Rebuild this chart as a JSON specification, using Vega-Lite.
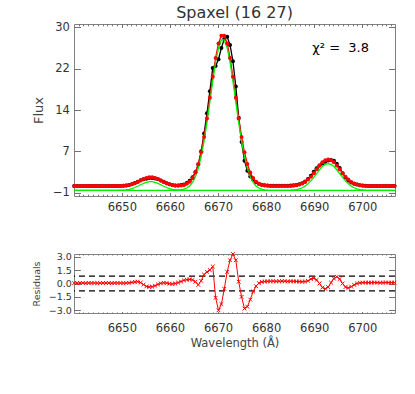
{
  "$schema": "https://vega.github.io/schema/vega-lite/v6.json",
  "background": "white",
  "padding": {"left": 30, "top": 4, "right": 5, "bottom": 5},
  "bounds": "flush",
  "spacing": 58,
  "config": {
    "view": {"stroke": "#808080", "strokeWidth": 1},
    "font": "DejaVu Sans",
    "axis": {"grid": false, "domain": false, "tickColor": "#707070", "labelColor": "#333", "titleColor": "#444", "labelFont": "DejaVu Sans", "titleFont": "DejaVu Sans", "titleFontWeight": "normal", "labelFlush": false, "labelOverlap": false}
  },
  "datasets": {
    "s": [
      {"w": 6640.1, "obs": 0.26, "mod": 0.25, "g": -0.55, "res": 0.05},
      {"w": 6640.7, "obs": 0.26, "mod": 0.25, "g": -0.55, "res": 0.04},
      {"w": 6641.3, "obs": 0.26, "mod": 0.25, "g": -0.55, "res": 0.06},
      {"w": 6641.9, "obs": 0.26, "mod": 0.25, "g": -0.55, "res": 0.05},
      {"w": 6642.5, "obs": 0.26, "mod": 0.25, "g": -0.55, "res": 0.04},
      {"w": 6643.1, "obs": 0.26, "mod": 0.25, "g": -0.55, "res": 0.05},
      {"w": 6643.7, "obs": 0.26, "mod": 0.25, "g": -0.55, "res": 0.06},
      {"w": 6644.3, "obs": 0.26, "mod": 0.25, "g": -0.55, "res": 0.05},
      {"w": 6644.9, "obs": 0.26, "mod": 0.25, "g": -0.55, "res": 0.04},
      {"w": 6645.5, "obs": 0.26, "mod": 0.25, "g": -0.55, "res": 0.05},
      {"w": 6646.1, "obs": 0.26, "mod": 0.25, "g": -0.55, "res": 0.05},
      {"w": 6646.7, "obs": 0.26, "mod": 0.25, "g": -0.55, "res": 0.06},
      {"w": 6647.3, "obs": 0.26, "mod": 0.25, "g": -0.55, "res": 0.05},
      {"w": 6647.9, "obs": 0.26, "mod": 0.25, "g": -0.55, "res": 0.04},
      {"w": 6648.5, "obs": 0.27, "mod": 0.26, "g": -0.54, "res": 0.05},
      {"w": 6649.1, "obs": 0.28, "mod": 0.26, "g": -0.54, "res": 0.06},
      {"w": 6649.7, "obs": 0.29, "mod": 0.28, "g": -0.52, "res": 0.05},
      {"w": 6650.3, "obs": 0.32, "mod": 0.31, "g": -0.49, "res": 0.04},
      {"w": 6650.9, "obs": 0.37, "mod": 0.36, "g": -0.44, "res": 0.06},
      {"w": 6651.5, "obs": 0.47, "mod": 0.45, "g": -0.35, "res": 0.08},
      {"w": 6652.1, "obs": 0.62, "mod": 0.59, "g": -0.21, "res": 0.12},
      {"w": 6652.7, "obs": 0.84, "mod": 0.79, "g": -0.01, "res": 0.18},
      {"w": 6653.3, "obs": 1.09, "mod": 1.03, "g": 0.23, "res": 0.2},
      {"w": 6653.9, "obs": 1.33, "mod": 1.30, "g": 0.50, "res": 0.1},
      {"w": 6654.5, "obs": 1.52, "mod": 1.56, "g": 0.76, "res": -0.12},
      {"w": 6655.1, "obs": 1.65, "mod": 1.77, "g": 0.97, "res": -0.32},
      {"w": 6655.7, "obs": 1.75, "mod": 1.89, "g": 1.09, "res": -0.38},
      {"w": 6656.3, "obs": 1.76, "mod": 1.89, "g": 1.09, "res": -0.35},
      {"w": 6656.9, "obs": 1.68, "mod": 1.77, "g": 0.97, "res": -0.25},
      {"w": 6657.5, "obs": 1.52, "mod": 1.56, "g": 0.76, "res": -0.1},
      {"w": 6658.1, "obs": 1.31, "mod": 1.30, "g": 0.50, "res": 0.02},
      {"w": 6658.7, "obs": 1.05, "mod": 1.03, "g": 0.23, "res": 0.08},
      {"w": 6659.3, "obs": 0.80, "mod": 0.79, "g": -0.01, "res": 0.05},
      {"w": 6659.9, "obs": 0.58, "mod": 0.59, "g": -0.21, "res": -0.02},
      {"w": 6660.5, "obs": 0.44, "mod": 0.45, "g": -0.35, "res": -0.05},
      {"w": 6661.1, "obs": 0.38, "mod": 0.38, "g": -0.42, "res": 0.0},
      {"w": 6661.7, "obs": 0.38, "mod": 0.36, "g": -0.44, "res": 0.1},
      {"w": 6662.3, "obs": 0.44, "mod": 0.38, "g": -0.42, "res": 0.22},
      {"w": 6662.9, "obs": 0.57, "mod": 0.48, "g": -0.32, "res": 0.35},
      {"w": 6663.5, "obs": 0.82, "mod": 0.70, "g": -0.10, "res": 0.43},
      {"w": 6664.1, "obs": 1.24, "mod": 1.09, "g": 0.29, "res": 0.46},
      {"w": 6664.7, "obs": 1.90, "mod": 1.76, "g": 0.96, "res": 0.4},
      {"w": 6665.3, "obs": 2.89, "mod": 2.81, "g": 2.01, "res": 0.2},
      {"w": 6665.9, "obs": 4.32, "mod": 4.39, "g": 3.59, "res": -0.15},
      {"w": 6666.5, "obs": 6.76, "mod": 6.59, "g": 5.79, "res": 0.3},
      {"w": 6667.1, "obs": 10.10, "mod": 9.46, "g": 8.66, "res": 1.0},
      {"w": 6667.7, "obs": 13.87, "mod": 12.92, "g": 12.12, "res": 1.3},
      {"w": 6668.3, "obs": 18.00, "mod": 16.78, "g": 15.98, "res": 1.5},
      {"w": 6668.9, "obs": 22.38, "mod": 20.71, "g": 19.91, "res": 1.9},
      {"w": 6669.5, "obs": 22.75, "mod": 24.25, "g": 23.45, "res": -1.6},
      {"w": 6670.1, "obs": 24.01, "mod": 26.95, "g": 26.15, "res": -3.0},
      {"w": 6670.7, "obs": 26.11, "mod": 28.41, "g": 27.61, "res": -2.3},
      {"w": 6671.3, "obs": 27.81, "mod": 28.41, "g": 27.61, "res": -0.6},
      {"w": 6671.9, "obs": 28.22, "mod": 26.95, "g": 26.15, "res": 1.3},
      {"w": 6672.5, "obs": 26.69, "mod": 24.25, "g": 23.45, "res": 2.6},
      {"w": 6673.1, "obs": 23.61, "mod": 20.71, "g": 19.91, "res": 3.3},
      {"w": 6673.7, "obs": 18.89, "mod": 16.78, "g": 15.98, "res": 2.6},
      {"w": 6674.3, "obs": 13.07, "mod": 12.92, "g": 12.12, "res": 0.2},
      {"w": 6674.9, "obs": 8.50, "mod": 9.46, "g": 8.66, "res": -1.5},
      {"w": 6675.5, "obs": 5.02, "mod": 6.59, "g": 5.79, "res": -2.8},
      {"w": 6676.1, "obs": 3.12, "mod": 4.39, "g": 3.59, "res": -2.6},
      {"w": 6676.7, "obs": 2.05, "mod": 2.81, "g": 2.01, "res": -1.8},
      {"w": 6677.3, "obs": 1.44, "mod": 1.76, "g": 0.96, "res": -0.9},
      {"w": 6677.9, "obs": 0.99, "mod": 1.09, "g": 0.29, "res": -0.3},
      {"w": 6678.5, "obs": 0.70, "mod": 0.69, "g": -0.11, "res": 0.05},
      {"w": 6679.1, "obs": 0.52, "mod": 0.47, "g": -0.33, "res": 0.18},
      {"w": 6679.7, "obs": 0.41, "mod": 0.36, "g": -0.44, "res": 0.22},
      {"w": 6680.3, "obs": 0.36, "mod": 0.30, "g": -0.50, "res": 0.25},
      {"w": 6680.9, "obs": 0.33, "mod": 0.27, "g": -0.53, "res": 0.25},
      {"w": 6681.5, "obs": 0.31, "mod": 0.25, "g": -0.55, "res": 0.26},
      {"w": 6682.1, "obs": 0.31, "mod": 0.25, "g": -0.55, "res": 0.24},
      {"w": 6682.7, "obs": 0.31, "mod": 0.25, "g": -0.55, "res": 0.25},
      {"w": 6683.3, "obs": 0.31, "mod": 0.25, "g": -0.55, "res": 0.26},
      {"w": 6683.9, "obs": 0.31, "mod": 0.25, "g": -0.55, "res": 0.25},
      {"w": 6684.5, "obs": 0.33, "mod": 0.27, "g": -0.53, "res": 0.24},
      {"w": 6685.1, "obs": 0.35, "mod": 0.29, "g": -0.51, "res": 0.25},
      {"w": 6685.7, "obs": 0.39, "mod": 0.33, "g": -0.47, "res": 0.24},
      {"w": 6686.3, "obs": 0.46, "mod": 0.40, "g": -0.40, "res": 0.23},
      {"w": 6686.9, "obs": 0.59, "mod": 0.53, "g": -0.27, "res": 0.22},
      {"w": 6687.5, "obs": 0.80, "mod": 0.74, "g": -0.06, "res": 0.2},
      {"w": 6688.1, "obs": 1.11, "mod": 1.04, "g": 0.24, "res": 0.22},
      {"w": 6688.7, "obs": 1.57, "mod": 1.47, "g": 0.67, "res": 0.3},
      {"w": 6689.3, "obs": 2.21, "mod": 2.02, "g": 1.22, "res": 0.5},
      {"w": 6689.9, "obs": 2.93, "mod": 2.68, "g": 1.88, "res": 0.6},
      {"w": 6690.5, "obs": 3.58, "mod": 3.40, "g": 2.60, "res": 0.4},
      {"w": 6691.1, "obs": 4.11, "mod": 4.11, "g": 3.31, "res": 0.0},
      {"w": 6691.7, "obs": 4.48, "mod": 4.71, "g": 3.91, "res": -0.45},
      {"w": 6692.3, "obs": 4.80, "mod": 5.11, "g": 4.31, "res": -0.6},
      {"w": 6692.9, "obs": 5.04, "mod": 5.25, "g": 4.45, "res": -0.4},
      {"w": 6693.5, "obs": 5.16, "mod": 5.11, "g": 4.31, "res": 0.1},
      {"w": 6694.1, "obs": 4.98, "mod": 4.71, "g": 3.91, "res": 0.55},
      {"w": 6694.7, "obs": 4.46, "mod": 4.11, "g": 3.31, "res": 0.75},
      {"w": 6695.3, "obs": 3.63, "mod": 3.40, "g": 2.60, "res": 0.5},
      {"w": 6695.9, "obs": 2.68, "mod": 2.68, "g": 1.88, "res": 0.0},
      {"w": 6696.5, "obs": 1.87, "mod": 2.02, "g": 1.22, "res": -0.4},
      {"w": 6697.1, "obs": 1.30, "mod": 1.47, "g": 0.67, "res": -0.5},
      {"w": 6697.7, "obs": 0.93, "mod": 1.04, "g": 0.24, "res": -0.35},
      {"w": 6698.3, "obs": 0.70, "mod": 0.74, "g": -0.06, "res": -0.15},
      {"w": 6698.9, "obs": 0.53, "mod": 0.53, "g": -0.27, "res": 0.0},
      {"w": 6699.5, "obs": 0.42, "mod": 0.40, "g": -0.40, "res": 0.08},
      {"w": 6700.1, "obs": 0.35, "mod": 0.33, "g": -0.47, "res": 0.1},
      {"w": 6700.7, "obs": 0.31, "mod": 0.29, "g": -0.51, "res": 0.1},
      {"w": 6701.3, "obs": 0.29, "mod": 0.27, "g": -0.53, "res": 0.1},
      {"w": 6701.9, "obs": 0.27, "mod": 0.25, "g": -0.55, "res": 0.1},
      {"w": 6702.5, "obs": 0.27, "mod": 0.25, "g": -0.55, "res": 0.11},
      {"w": 6703.1, "obs": 0.27, "mod": 0.25, "g": -0.55, "res": 0.1},
      {"w": 6703.7, "obs": 0.27, "mod": 0.25, "g": -0.55, "res": 0.09},
      {"w": 6704.3, "obs": 0.27, "mod": 0.25, "g": -0.55, "res": 0.1},
      {"w": 6704.9, "obs": 0.27, "mod": 0.25, "g": -0.55, "res": 0.11},
      {"w": 6705.5, "obs": 0.27, "mod": 0.25, "g": -0.55, "res": 0.1},
      {"w": 6706.1, "obs": 0.27, "mod": 0.25, "g": -0.55, "res": 0.1},
      {"w": 6706.7, "obs": 0.27, "mod": 0.25, "g": -0.55, "res": 0.1}
    ],
    "thr": [{"v": 0.82}, {"v": -0.82}],
    "one": [{"k": 1}]
  },
  "vconcat": [
    {
      "width": 321,
      "height": 172,
      "title": {"text": "Spaxel (16 27)", "fontSize": 16, "font": "DejaVu Sans", "fontWeight": "normal", "color": "#333", "offset": 0},
      "data": {"name": "s"},
      "layer": [
        {
          "mark": {"type": "line", "color": "black", "strokeWidth": 1.3},
          "encoding": {
            "x": {"field": "w", "type": "quantitative", "scale": {"domain": [6640.05, 6706.8], "nice": false, "zero": false},
                  "axis": {"orient": "bottom", "values": [6650, 6660, 6670, 6680, 6690, 6700], "format": "d", "tickSize": -3.5, "labelPadding": 9, "labelFontSize": 11.5, "title": null}},
            "y": {"field": "obs", "type": "quantitative", "scale": {"domain": [-1.6, 30.6], "nice": false, "zero": false},
                  "axis": {"orient": "left", "values": [-1, 6.75, 14.5, 22.25, 30], "labelExpr": "datum.value == 30 ? '30' : datum.value == 22.25 ? '22' : datum.value == 14.5 ? '14' : datum.value == 6.75 ? '7' : '−1'", "tickSize": -6.4, "labelPadding": 11, "labelFontSize": 11.5, "title": "Flux", "titleFontSize": 13, "titleX": -36, "titleY": 86, "titleBaseline": "middle", "titleAngle": -90}}
          }
        },
        {
          "mark": {"type": "point", "filled": true, "shape": "circle", "color": "black", "size": 16, "opacity": 1},
          "encoding": {
            "x": {"field": "w", "type": "quantitative", "axis": {"orient": "top", "values": [6650, 6660, 6670, 6680, 6690, 6700], "labels": false, "tickSize": -3.5, "title": null}},
            "y": {"field": "obs", "type": "quantitative", "axis": {"orient": "right", "values": [-1, 6.75, 14.5, 22.25, 30], "labels": false, "tickSize": -6.4, "title": null}}
          }
        },
        {
          "mark": {"type": "line", "color": "#ff0000", "strokeWidth": 1.3},
          "encoding": {
            "x": {"field": "w", "type": "quantitative", "axis": {"orient": "bottom", "values": [6641,6642,6643,6644,6645,6646,6647,6648,6649,6650,6651,6652,6653,6654,6655,6656,6657,6658,6659,6660,6661,6662,6663,6664,6665,6666,6667,6668,6669,6670,6671,6672,6673,6674,6675,6676,6677,6678,6679,6680,6681,6682,6683,6684,6685,6686,6687,6688,6689,6690,6691,6692,6693,6694,6695,6696,6697,6698,6699,6700,6701,6702,6703,6704,6705,6706], "labels": false, "tickSize": -1.8, "title": null}},
            "y": {"field": "mod", "type": "quantitative", "axis": null}
          }
        },
        {
          "mark": {"type": "line", "color": "#00ee00", "strokeWidth": 1.3},
          "encoding": {
            "x": {"field": "w", "type": "quantitative", "axis": {"orient": "top", "values": [6641,6642,6643,6644,6645,6646,6647,6648,6649,6650,6651,6652,6653,6654,6655,6656,6657,6658,6659,6660,6661,6662,6663,6664,6665,6666,6667,6668,6669,6670,6671,6672,6673,6674,6675,6676,6677,6678,6679,6680,6681,6682,6683,6684,6685,6686,6687,6688,6689,6690,6691,6692,6693,6694,6695,6696,6697,6698,6699,6700,6701,6702,6703,6704,6705,6706], "labels": false, "tickSize": -1.8, "title": null}},
            "y": {"field": "g", "type": "quantitative", "axis": null}
          }
        },
        {
          "mark": {"type": "point", "filled": true, "shape": "circle", "color": "#ff0000", "size": 16, "opacity": 1},
          "encoding": {
            "x": {"field": "w", "type": "quantitative", "axis": null},
            "y": {"field": "mod", "type": "quantitative", "axis": null}
          }
        },
        {
          "data": {"name": "one"},
          "mark": {"type": "rule", "color": "#00ee00", "strokeWidth": 1.3},
          "encoding": {
            "y": {"datum": -0.55, "type": "quantitative", "axis": null}
          }
        },
        {
          "data": {"name": "one"},
          "mark": {"type": "text", "text": "χ² =\u00a0\u00a03.8", "align": "left", "baseline": "alphabetic", "fontSize": 13, "font": "DejaVu Sans", "color": "black"},
          "encoding": {
            "x": {"datum": 6689.6, "type": "quantitative", "axis": null},
            "y": {"datum": 25.3, "type": "quantitative", "axis": null}
          }
        }
      ],
      "resolve": {"axis": {"x": "independent", "y": "independent"}}
    },
    {
      "width": 321,
      "height": 59,
      "layer": [
        {
          "data": {"name": "thr"},
          "mark": {"type": "rule", "color": "black", "strokeWidth": 1.3, "strokeDash": [6, 4]},
          "encoding": {
            "y": {"field": "v", "type": "quantitative", "scale": {"domain": [-3.3, 3.3], "nice": false, "zero": false},
                  "axis": {"orient": "right", "values": [-3, -1.5, 0, 1.5, 3], "labels": false, "tickSize": -6.4, "title": null}}
          }
        },
        {
          "data": {"name": "s"},
          "mark": {"type": "line", "color": "#ff0000", "strokeWidth": 1},
          "encoding": {
            "x": {"field": "w", "type": "quantitative", "scale": {"domain": [6640.05, 6706.8], "nice": false, "zero": false},
                  "axis": {"orient": "bottom", "values": [6650, 6660, 6670, 6680, 6690, 6700], "format": "d", "tickSize": -1.5, "labelPadding": 11, "labelFontSize": 11.5, "title": "Wavelength (Å)", "titleFontSize": 11.5, "titlePadding": 3}},
            "y": {"field": "res", "type": "quantitative",
                  "axis": {"orient": "left", "values": [-3, -1.5, 0, 1.5, 3], "format": ".1f", "tickSize": -6.4, "labelPadding": 9, "labelFontSize": 9.5, "title": "Residuals", "titleFontSize": 9.5, "titleX": -37.7, "titleY": 29.5, "titleBaseline": "middle", "titleAngle": -90}}
          }
        },
        {
          "data": {"name": "s"},
          "mark": {"type": "point", "shape": "M-1,-1L1,1M-1,1L1,-1", "filled": false, "color": "#ff0000", "strokeWidth": 1, "size": 14, "opacity": 1},
          "encoding": {
            "x": {"field": "w", "type": "quantitative", "axis": {"orient": "top", "values": [6650, 6660, 6670, 6680, 6690, 6700], "labels": false, "tickSize": -1.5, "title": null}},
            "y": {"field": "res", "type": "quantitative", "axis": null}
          }
        },
        {
          "data": {"name": "s"},
          "mark": {"type": "point", "opacity": 0},
          "encoding": {
            "x": {"field": "w", "type": "quantitative", "axis": {"orient": "bottom", "values": [6641,6642,6643,6644,6645,6646,6647,6648,6649,6650,6651,6652,6653,6654,6655,6656,6657,6658,6659,6660,6661,6662,6663,6664,6665,6666,6667,6668,6669,6670,6671,6672,6673,6674,6675,6676,6677,6678,6679,6680,6681,6682,6683,6684,6685,6686,6687,6688,6689,6690,6691,6692,6693,6694,6695,6696,6697,6698,6699,6700,6701,6702,6703,6704,6705,6706], "labels": false, "tickSize": -1, "title": null}},
            "y": {"field": "res", "type": "quantitative", "axis": null}
          }
        },
        {
          "data": {"name": "s"},
          "mark": {"type": "point", "opacity": 0},
          "encoding": {
            "x": {"field": "w", "type": "quantitative", "axis": {"orient": "top", "values": [6641,6642,6643,6644,6645,6646,6647,6648,6649,6650,6651,6652,6653,6654,6655,6656,6657,6658,6659,6660,6661,6662,6663,6664,6665,6666,6667,6668,6669,6670,6671,6672,6673,6674,6675,6676,6677,6678,6679,6680,6681,6682,6683,6684,6685,6686,6687,6688,6689,6690,6691,6692,6693,6694,6695,6696,6697,6698,6699,6700,6701,6702,6703,6704,6705,6706], "labels": false, "tickSize": -1, "title": null}},
            "y": {"field": "res", "type": "quantitative", "axis": null}
          }
        }
      ],
      "resolve": {"axis": {"x": "independent", "y": "independent"}}
    }
  ]
}
